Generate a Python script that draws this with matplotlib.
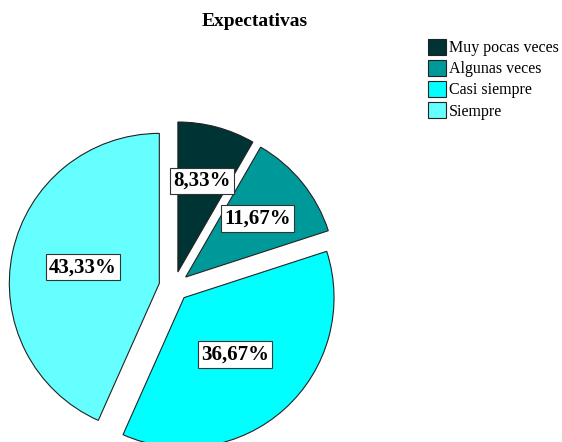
import matplotlib.pyplot as plt
import numpy as np

plt.rcParams['font.family'] = ['Liberation Serif', 'DejaVu Serif']

categorias = ['Muy pocas veces', 'Algunas veces', 'Casi siempre', 'Siempre']
porcentajes = [8.33, 11.67, 36.67, 43.33]
colores = ['#003333', '#009999', '#00FFFF', '#66FFFF']
etiquetas = ['8,33%', '11,67%', '36,67%', '43,33%']

W, H = 562, 442
fig = plt.figure(figsize=(W / 100, H / 100), dpi=100)

# centro del pastel en pixeles y radio
cx, cy, R = 174, H - 286.5, 150
lado = 2.4 * R
ax = fig.add_axes([(cx - lado / 2) / W, (cy - lado / 2) / H, lado / W, lado / H])

wedges, _ = ax.pie(porcentajes, colors=colores, startangle=90, counterclock=False,
                   explode=[0.1] * 4, radius=1,
                   wedgeprops=dict(edgecolor='#222222', linewidth=0.8))
ax.set_xlim(-1.2, 1.2)
ax.set_ylim(-1.2, 1.2)
ax.set_aspect('equal')
ax.axis('off')

dist = [0.63, 0.62, 0.51, 0.52]
for w, txt, d in zip(wedges, etiquetas, dist):
    ang = np.deg2rad((w.theta1 + w.theta2) / 2)
    ox, oy = w.center
    ax.text(ox + d * np.cos(ang), oy + d * np.sin(ang), txt,
            ha='center', va='center', fontsize=15, fontweight='bold',
            bbox=dict(boxstyle='square,pad=0.15', facecolor='white',
                      edgecolor='#333333', linewidth=0.8))

fig.text(255 / W, 1 - 21 / H, 'Expectativas', ha='center', va='center',
         fontsize=14, fontweight='bold')

fig.legend(wedges, categorias, loc='upper right', bbox_to_anchor=(1.0, 1 - 36 / H),
           frameon=False, fontsize=11.5, handlelength=1.1, handleheight=1.1,
           handletextpad=0.2, labelspacing=0.25, borderpad=0.1, borderaxespad=0.1)

fig.savefig('out.png', dpi=100)
